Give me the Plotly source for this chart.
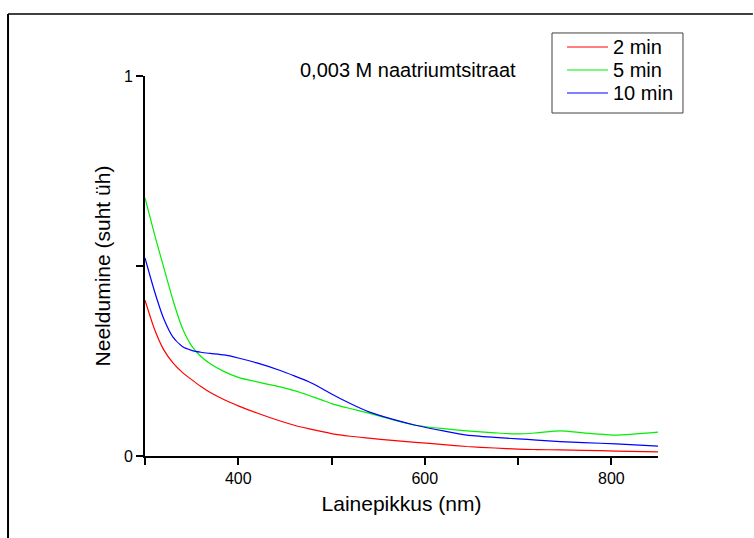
import plotly.graph_objects as go

wavelength = [300, 310, 320, 330, 340, 350, 360, 370, 385, 400, 420, 445, 460, 475, 490, 500, 520, 540, 565, 590, 620, 645, 675, 700, 720, 745, 770, 805, 850]
abs_2min = [0.41, 0.335, 0.28, 0.245, 0.22, 0.201, 0.183, 0.167, 0.148, 0.132, 0.113, 0.092, 0.081, 0.072, 0.064, 0.059, 0.052, 0.047, 0.041, 0.036, 0.03, 0.025, 0.021, 0.018, 0.017, 0.016, 0.015, 0.013, 0.011]
abs_5min = [0.679, 0.585, 0.497, 0.41, 0.337, 0.29, 0.262, 0.243, 0.222, 0.207, 0.195, 0.182, 0.172, 0.16, 0.147, 0.138, 0.125, 0.113, 0.096, 0.081, 0.072, 0.066, 0.061, 0.058, 0.061, 0.066, 0.061, 0.055, 0.063]
abs_10min = [0.521, 0.435, 0.362, 0.313, 0.288, 0.278, 0.273, 0.27, 0.266, 0.258, 0.245, 0.225, 0.211, 0.196, 0.177, 0.163, 0.138, 0.116, 0.097, 0.081, 0.066, 0.055, 0.049, 0.045, 0.042, 0.038, 0.035, 0.032, 0.026]

series = [("2 min", abs_2min, "#ff0000"), ("5 min", abs_5min, "#00ee00"), ("10 min", abs_10min, "#0000ff")]

x_tickvals = [300, 400, 500, 600, 700, 800]
x_ticktext = ["", "400", "", "600", "", "800"]
y_tickvals = [0, 0.5, 1]
y_ticktext = ["0", "", "1"]

FONT = "Liberation Sans, Arial, sans-serif"

fig = go.Figure()
for name, vals, color in series:
    fig.add_trace(go.Scatter(x=wavelength, y=vals, name=name, mode="lines", showlegend=False,
                             line=dict(color=color, width=1.2, shape="spline", smoothing=0.6)))

# custom legend box (paper coordinates)
leg_x0, leg_x1, leg_y0, leg_y1 = 0.7934, 1.0487, 0.9026, 1.1132
entry_y = [1.0763, 1.0158, 0.9553]
shapes = [
    dict(type="rect", xref="paper", yref="paper", x0=leg_x0, x1=leg_x1, y0=leg_y0, y1=leg_y1,
         line=dict(color="#404040", width=1), fillcolor="white", layer="above"),
    dict(type="line", xref="paper", yref="paper", x0=-0.267, x1=1.185, y0=1.163, y1=1.163,
         line=dict(color="#404040", width=2)),
    dict(type="line", xref="paper", yref="paper", x0=-0.267, x1=-0.267, y0=1.163, y1=-0.22,
         line=dict(color="black", width=2)),
]
annotations = [dict(text="0,003 M naatriumtsitraat", xref="paper", yref="paper",
                    x=0.513, y=1.016, xanchor="center", yanchor="middle",
                    showarrow=False, font=dict(size=20, family=FONT))]
for (name, _, color), ey in zip(series, entry_y):
    shapes.append(dict(type="line", xref="paper", yref="paper", x0=0.8226, x1=0.9025, y0=ey, y1=ey,
                       line=dict(color=color, width=1.2), layer="above"))
    annotations.append(dict(text=name, xref="paper", yref="paper", x=0.9083, y=ey,
                            xanchor="left", yanchor="middle", showarrow=False,
                            font=dict(size=20, family=FONT)))

fig.update_layout(
    width=754, height=538,
    margin=dict(l=145, r=96, t=76, b=82),
    paper_bgcolor="white", plot_bgcolor="white",
    font=dict(family=FONT, color="black"),
    showlegend=False,
    xaxis=dict(range=[300, 850], tickvals=x_tickvals, ticktext=x_ticktext,
               ticks="outside", ticklen=7, tickwidth=1.5, tickcolor="black",
               showline=True, linecolor="black", linewidth=2, showgrid=False, zeroline=False,
               tickfont=dict(size=16), title=dict(text="Lainepikkus (nm)", font=dict(size=21), standoff=10)),
    yaxis=dict(range=[0, 1], tickvals=y_tickvals, ticktext=y_ticktext,
               ticks="outside", ticklen=7, tickwidth=1.5, tickcolor="black",
               showline=True, linecolor="black", linewidth=2, showgrid=False, zeroline=False,
               tickfont=dict(size=16), title=dict(text="Neeldumine (suht üh)", font=dict(size=21), standoff=8)),
    annotations=annotations,
    shapes=shapes,
)

fig.write_html("out.html")
